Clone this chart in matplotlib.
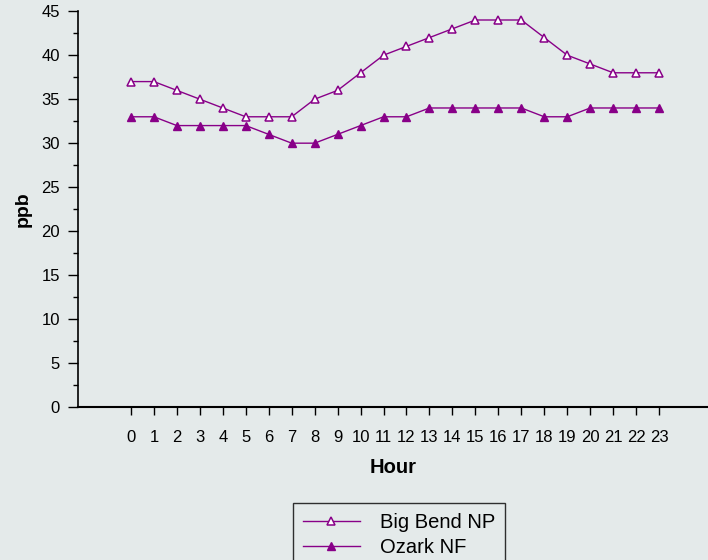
import matplotlib
matplotlib.use("Agg")
from matplotlib import pyplot as plt
from matplotlib.ticker import MultipleLocator

plt.rcParams['font.family'] = ['Liberation Sans', 'DejaVu Sans']

# Data
hours = list(range(24))
big_bend = [37, 37, 36, 35, 34, 33, 33, 33, 35, 36, 38, 40,
            41, 42, 43, 44, 44, 44, 42, 40, 39, 38, 38, 38]
ozark = [33, 33, 32, 32, 32, 32, 31, 30, 30, 31, 32, 33,
         33, 34, 34, 34, 34, 34, 33, 33, 34, 34, 34, 34]

bg = '#e4eaea'
purple = '#880088'

fig = plt.figure(figsize=(7.08, 5.6), dpi=100, facecolor=bg)
ax = fig.add_axes([0.110, 0.273, 0.890, 0.707], facecolor=bg)

ax.plot(hours, big_bend, color=purple, lw=1.0, marker='^', ms=6,
        mfc='white', mec=purple, mew=1.1, label='Big Bend NP')
ax.plot(hours, ozark, color=purple, lw=1.0, marker='^', ms=6,
        mfc=purple, mec=purple, label='Ozark NF')

ax.set_xlim(-2.31, 25.13)
ax.set_ylim(0, 45)
ax.set_xticks(hours)
ax.yaxis.set_major_locator(MultipleLocator(5))
ax.yaxis.set_minor_locator(MultipleLocator(2.5))

for s in ['top', 'right']:
    ax.spines[s].set_visible(False)
ax.spines['left'].set_linewidth(1.2)
ax.spines['bottom'].set_linewidth(1.5)

ax.tick_params(axis='y', which='major', length=7, width=1, labelsize=12, pad=6)
ax.tick_params(axis='y', which='minor', length=3.6, width=1)
ax.tick_params(axis='x', length=5.8, width=1, labelsize=12, pad=10.5)

ax.set_xlabel('Hour', fontsize=14.5, fontweight='bold', labelpad=9.5)
ax.set_ylabel('ppb', fontsize=14, fontweight='bold', labelpad=6.5)

leg = fig.legend(loc='upper left', bbox_to_anchor=(0.414, 0.102),
                 fontsize=14.5, handlelength=2.8, frameon=True, fancybox=False,
                 borderpad=0.5, labelspacing=0.3, handletextpad=1.0,
                 borderaxespad=0)
leg.get_frame().set_edgecolor('black')
leg.get_frame().set_facecolor(bg)
leg.get_frame().set_linewidth(1.0)

fig.savefig('out.png', dpi=100, facecolor=bg)
